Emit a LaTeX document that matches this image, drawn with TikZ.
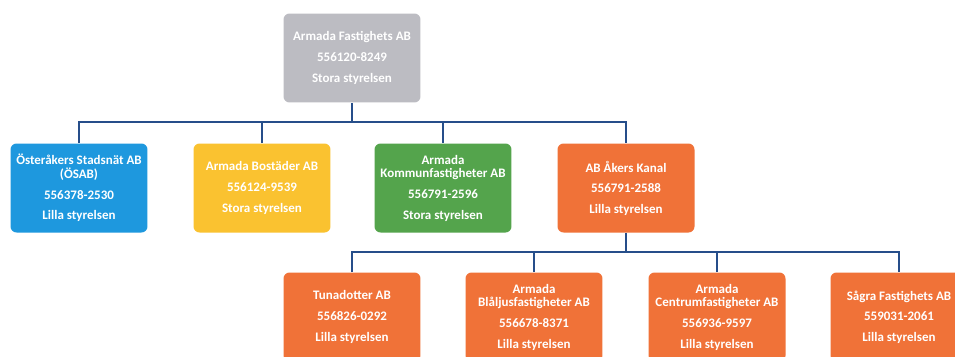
\documentclass[tikz,border=0pt]{standalone}
\usepackage{fontspec}
\setmainfont{Carlito}
\definecolor{grisbox}{RGB}{188,188,194}
\definecolor{azulbox}{RGB}{30,152,222}
\definecolor{amarbox}{RGB}{250,194,48}
\definecolor{verdebox}{RGB}{84,164,76}
\definecolor{naranbox}{RGB}{240,114,56}
\definecolor{linea}{RGB}{38,78,138}
\tikzset{
  bolag/.style={rounded corners=0.12cm, minimum width=2.74cm, minimum height=1.78cm,
    text=white, align=center, inner sep=2pt,
    font=\fontsize{7.4}{7.9}\selectfont\bfseries},
  rama/.style={linea, line width=0.6pt}
}
\newcommand{\rad}{\\[3.8pt]}
\begin{document}
\begin{tikzpicture}[x=0.02cm, y=-0.02cm]
                \useasboundingbox[fill=white] (0,0) rectangle (955,356);

                % Moderbolag
                \node[bolag, fill=grisbox] (moder) at (352,58)
                  {Armada Fastighets AB\rad 556120-8249\rad Stora styrelsen};

                % Dotterbolag
                \node[bolag, fill=azulbox] (osab) at (79,188)
                  {Österåkers Stadsnät AB\\(ÖSAB)\rad 556378-2530\rad Lilla styrelsen};
                \node[bolag, fill=amarbox] (bostad) at (262,188)
                  {Armada Bostäder AB\rad 556124-9539\rad Stora styrelsen};
                \node[bolag, fill=verdebox] (kommun) at (443,188)
                  {Armada\\Kommunfastigheter AB\rad 556791-2596\rad Stora styrelsen};
                \node[bolag, fill=naranbox] (kanal) at (626,188)
                  {AB Åkers Kanal\rad 556791-2588\rad Lilla styrelsen};

                % Dotterdotterbolag
                \node[bolag, fill=naranbox] (tuna) at (352,317)
                  {Tunadotter AB\rad 556826-0292\rad Lilla styrelsen};
                \node[bolag, fill=naranbox] (blaljus) at (534,317)
                  {Armada\\Blåljusfastigheter AB\rad 556678-8371\rad Lilla styrelsen};
                \node[bolag, fill=naranbox] (centrum) at (717,317)
                  {Armada\\Centrumfastigheter AB\rad 556936-9597\rad Lilla styrelsen};
                \node[bolag, fill=naranbox] (sagra) at (899,317)
                  {Sågra Fastighets AB\rad 559031-2061\rad Lilla styrelsen};

                % Linjer
                \coordinate (buss1) at (0,122);
                \coordinate (buss2) at (0,252);
                \draw[rama] (moder.south) -- (moder.south |- buss1);
                \draw[rama] (osab.north) -- (osab.north |- buss1) -- (kanal.north |- buss1) -- (kanal.north);
                \foreach \b in {bostad, kommun}
                  \draw[rama] (\b.north) -- (\b.north |- buss1);
                \draw[rama] (kanal.south) -- (kanal.south |- buss2);
                \draw[rama] (tuna.north) -- (tuna.north |- buss2) -- (sagra.north |- buss2) -- (sagra.north);
                \foreach \b in {blaljus, centrum}
                  \draw[rama] (\b.north) -- (\b.north |- buss2);
            \end{tikzpicture}
\end{document}
